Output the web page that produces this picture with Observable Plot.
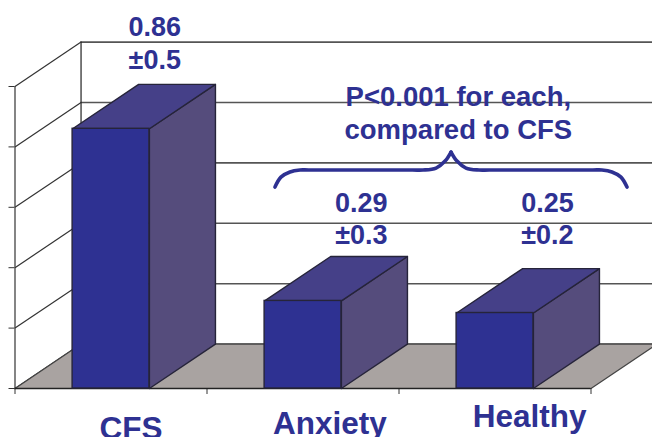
<!DOCTYPE html>
<html>
<head>
<meta charset="utf-8">
<style>
  html, body { margin: 0; padding: 0; background: #fff; overflow: hidden; }
  svg { display: block; }
</style>
<script src="https://cdn.jsdelivr.net/npm/d3@7"></script>
<script src="https://cdn.jsdelivr.net/npm/@observablehq/plot@0.6"></script>
</head>
<body>
<script>
// Group means and spread
const categories = ["CFS", "Anxiety", "Healthy"];
const means = [0.86, 0.29, 0.25];
const spreads = ["0.5", "0.3", "0.2"];
const yTicks = [0, 0.2, 0.4, 0.6, 0.8, 1];
const categoryTicks = [0, 1, 2, 3];
const note = "P<0.001 for each,\ncompared to CFS";

// Oblique projection: how far the back plane sits from the front plane, in axis units
const depthX = 0.344;
const depthY = 0.147;
// Bars fill 40% of each category slot, centred
const barHalf = 0.2;

const ink = "#2e3192";
const outline = "#26243a";
const font = "'Liberation Sans', Arial, sans-serif";

const bars = categories.map((name, i) => ({
  name, value: means[i], x1: i + 0.5 - barHalf, x2: i + 0.5 + barHalf,
  label: `${means[i].toFixed(2)}\n±${spreads[i]}`
}));

// Builds closed outlines for the side and top faces of every bar
const sideFaces = bars.flatMap(b => [
  [b.x2, 0], [b.x2 + depthX, depthY], [b.x2 + depthX, b.value + depthY], [b.x2, b.value], [b.x2, 0]
].map(([x, y]) => ({id: b.name, x, y})));
const topFaces = bars.flatMap(b => [
  [b.x1, b.value], [b.x1 + depthX, b.value + depthY], [b.x2 + depthX, b.value + depthY], [b.x2, b.value], [b.x1, b.value]
].map(([x, y]) => ({id: b.name, x, y})));
const floor = [[0, 0], [3, 0], [3 + depthX, depthY], [depthX, depthY], [0, 0]].map(([x, y]) => ({x, y}));

// Value-label anchors, placed over each bar in axis units
const labelAnchors = [[0.728, 1.058], [1.804, 0.477], [2.773, 0.477]];
const valueLabels = bars.map((b, i) => ({text: b.label, x: labelAnchors[i][0], y: labelAnchors[i][1]}));

// Category names sit at slightly different heights below the axis
const nameAnchors = [[0.604, -0.167], [1.64, -0.15], [2.68, -0.127]];
const nameLabels = categories.map((text, i) => ({text, x: nameAnchors[i][0], y: nameAnchors[i][1]}));

// Curly bracket grouping the two comparison bars: two arms meeting in a cusp
const bracketArm = (id, points) => points.map(([x, y]) => ({id, x, y}));
const bracket = [
  ...bracketArm("left", [
    [1.354, 0.667], [1.385, 0.7], [1.432, 0.717], [1.484, 0.7235], [1.53, 0.7235], [2.07, 0.7235], [2.125, 0.7235], [2.193, 0.73], [2.24, 0.753], [2.271, 0.783]
  ]),
  ...bracketArm("right", [
    [2.271, 0.783], [2.302, 0.753], [2.349, 0.73], [2.417, 0.7235], [2.47, 0.7235], [3.01, 0.7235], [3.057, 0.7235], [3.109, 0.717], [3.156, 0.7], [3.1875, 0.667]
  ])
];

const chart = Plot.plot({
  width: 652,
  height: 437,
  marginLeft: 14.5,
  marginRight: 61.5,
  marginTop: 86,
  marginBottom: 49,
  x: {domain: [0, 3]},
  y: {domain: [0, 1]},
  style: {background: "#fff", fontFamily: font},
  marks: [
    // Back wall and left wall
    Plot.ruleY(yTicks, {x1: depthX, x2: 3 + depthX, y: d => d + depthY, stroke: "#555", strokeWidth: 1.6}),
    Plot.ruleX([depthX], {y1: depthY, y2: 1 + depthY, stroke: "#222", strokeWidth: 1.2}),
    Plot.link(yTicks, {x1: 0, y1: d => d, x2: depthX, y2: d => d + depthY, stroke: "#333", strokeWidth: 1.2}),
    // Floor
    Plot.line(floor, {x: "x", y: "y", fill: "#a9a3a1", stroke: "#444", strokeWidth: 1.2}),
    // Axes along the front plane
    Plot.axisY({ticks: yTicks, tickSize: 6, tickFormat: () => "", label: null, stroke: "#333"}),
    Plot.axisX({ticks: categoryTicks, tickSize: 6, tickFormat: () => "", label: null, stroke: "#333"}),
    Plot.ruleX([0], {stroke: "#333", strokeWidth: 1.2}),
    Plot.ruleY([0], {stroke: "#222", strokeWidth: 1.4}),
    // Bars: side, top, then front face
    Plot.line(sideFaces, {x: "x", y: "y", z: "id", fill: "#554c7c", stroke: outline, strokeWidth: 1.4}),
    Plot.line(topFaces, {x: "x", y: "y", z: "id", fill: "#454088", stroke: outline, strokeWidth: 1.4}),
    Plot.rect(bars, {x1: "x1", x2: "x2", y1: 0, y2: "value", fill: ink, stroke: outline, strokeWidth: 1.4}),
    // Labels
    Plot.text(valueLabels, {x: "x", y: "y", text: "text", lineAnchor: "bottom", lineHeight: 1.22, fontSize: 27, fontWeight: "bold", fill: ink}),
    Plot.text(nameLabels, {x: "x", y: "y", text: "text", lineAnchor: "bottom", fontSize: 31.5, fontWeight: "bold", fill: ink}),
    Plot.text([note], {x: 2.309, y: 0.826, text: d => d, lineAnchor: "bottom", lineHeight: 1.2, fontSize: 27.5, fontWeight: "bold", fill: ink}),
    Plot.line(bracket, {x: "x", y: "y", z: "id", curve: "catmull-rom", stroke: ink, strokeWidth: 3.6, strokeLinecap: "round"})
  ]
});
document.body.appendChild(chart);
</script>
</body>
</html>
